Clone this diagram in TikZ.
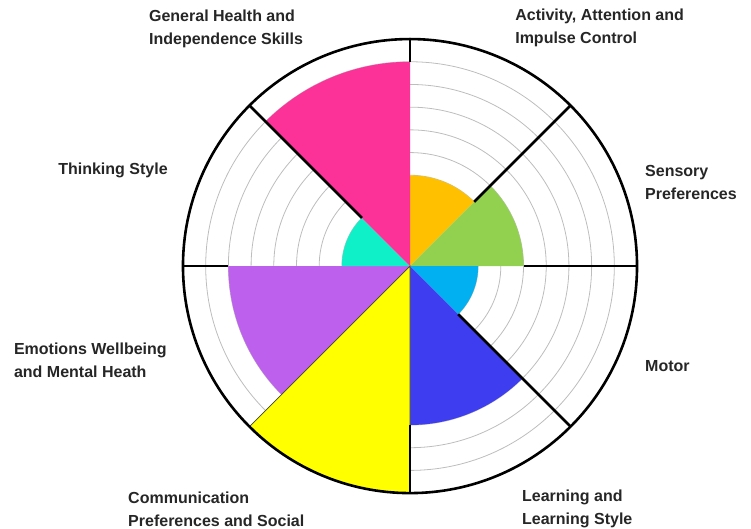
\documentclass[tikz,border=0pt]{standalone}
\usepackage{fontspec}
\setmainfont{Liberation Sans}
\usepackage{tikz}
\definecolor{actOrange}{HTML}{FFC000}
\definecolor{senGreen}{HTML}{92D050}
\definecolor{motBlue}{HTML}{00B0F0}
\definecolor{lrnBlue}{HTML}{3E3EF0}
\definecolor{comYellow}{HTML}{FFFF00}
\definecolor{emoPurple}{HTML}{BE60EE}
\definecolor{thkCyan}{HTML}{10F0C8}
\definecolor{genPink}{HTML}{FC3299}
\definecolor{ringGrey}{HTML}{BDBDBD}
\definecolor{txtGrey}{HTML}{262626}
\newcommand{\Slice}[4]{\fill[#1] (0,0) -- (#2:#4) arc[start angle=#2, end angle=#3, radius=#4] -- cycle;}

\begin{document}
\begin{tikzpicture}[
                    x=22.7pt, y=22.7pt,
                lbl/.style={anchor=west, inner sep=0pt, align=left, text=txtGrey,
                            font=\fontsize{16}{23}\selectfont\bfseries},
                spoke/.style={line width=2.6pt, line cap=butt},
                ring/.style={ringGrey, line width=0.8pt}]

                \useasboundingbox (-18.06,-11.54) rectangle (15.02,11.72);

                % grid rings
                \foreach \r in {1,...,9}
                    \draw[ring] (0,0) circle[radius=\r];

                % score slices
                \Slice{actOrange}{45}{90}{4}
                \Slice{senGreen}{0}{45}{5}
                \Slice{motBlue}{-45}{0}{3}
                \Slice{lrnBlue}{-90}{-45}{7}
                \Slice{emoPurple}{180}{225}{8}
                \Slice{thkCyan}{135}{180}{3}
                \Slice{genPink}{90}{135}{9}
                \fill[comYellow, draw=black!75, line width=0.7pt] (0,0) -- (225:10) arc[start angle=225, end angle=270, radius=10] -- cycle;

                % spokes and rim
                \draw[spoke] (90:9) -- (90:10);
                \draw[spoke] (45:4) -- (45:10);
                \draw[spoke] (0:5) -- (0:10);
                \draw[spoke] (-45:3) -- (-45:10);
                \draw[spoke] (-90:7) -- (-90:10);
                \draw[spoke] (180:8) -- (180:10);
                \draw[spoke] (135:3) -- (135:10);
                \draw[spoke] (0,0) circle[radius=10];

                \draw(-11.5,10.46) node[lbl] (gen) {General Health and\\Independence Skills};
                \draw(4.63,10.5) node[lbl] (act) {Activity, Attention and\\Impulse Control};
                \draw(-15.5,4.2) node[lbl] (thk) {Thinking Style};
                \draw(10.35,3.7) node[lbl] (sen) {Sensory\\Preferences};
                \draw(-17.45,-4.16) node[lbl] (emo) {Emotions Wellbeing\\and Mental Heath};
                \draw(10.35,-4.41) node[lbl] (mot) {Motor};
                \draw(-12.42,-10.7) node[lbl] (com) {Communication\\Preferences and Social};
                \draw(4.93,-10.7) node[lbl] (lrn) {Learning and\\Learning Style};

            \end{tikzpicture}
\end{document}
